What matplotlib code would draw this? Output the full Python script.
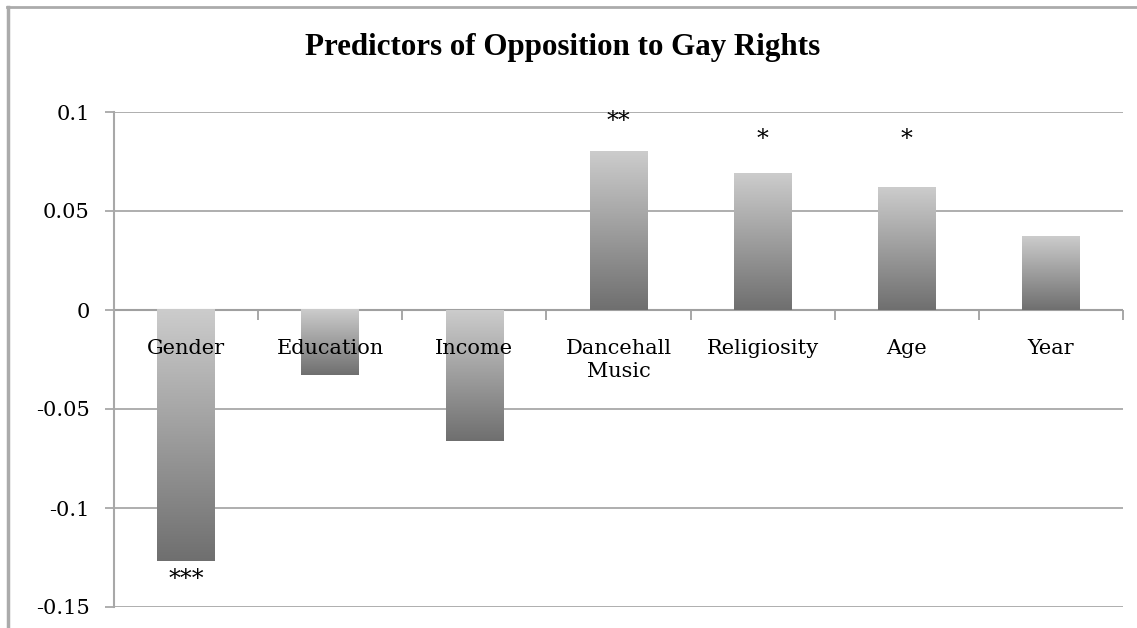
import numpy as np
import matplotlib
matplotlib.use('Agg')
import matplotlib.pyplot as plt
from matplotlib.colors import LinearSegmentedColormap
from matplotlib.lines import Line2D

categories = ['Gender', 'Education', 'Income', 'Dancehall\nMusic', 'Religiosity', 'Age', 'Year']
values = [-0.127, -0.033, -0.066, 0.080, 0.069, 0.062, 0.037]
stars = ['***', '', '', '**', '*', '*', '']
star_y = [-0.136, None, None, 0.095, 0.086, 0.086, None]
yticks = [-0.15, -0.1, -0.05, 0, 0.05, 0.1]
ytick_labels = ['-0.15', '-0.1', '-0.05', '0', '0.05', '0.1']
title = 'Predictors of Opposition to Gay Rights'

serif = ['DejaVu Serif']
title_font = ['Liberation Serif', 'DejaVu Serif']
grid_col = '#a8a8a8'

fig = plt.figure(figsize=(11.37, 6.28), dpi=100)
ax = fig.add_axes([114 / 1137, 21 / 628, (1123 - 114) / 1137, (607 - 112) / 628])

x = np.arange(len(categories))
bars = ax.bar(x, values, width=0.4, color='none', edgecolor='none', zorder=3)
cmap = LinearSegmentedColormap.from_list('g', ['#cccccc', '#6f6f6f'])
grad = np.linspace(0, 1, 256).reshape(-1, 1)
for b in bars:
    x0, w = b.get_x(), b.get_width()
    y0, h = b.get_y(), b.get_height()
    lo, hi = min(y0, y0 + h), max(y0, y0 + h)
    ax.imshow(grad, cmap=cmap, extent=[x0, x0 + w, lo, hi], origin='upper',
              aspect='auto', zorder=3, interpolation='bilinear')

ax.set_xlim(-0.5, len(categories) - 0.5)
ax.set_ylim(-0.15, 0.1)
ax.set_yticks(yticks)
ax.set_yticklabels(ytick_labels, fontsize=15, family=serif)
ax.tick_params(axis='y', length=6.5, width=1.3, color=grid_col, pad=11)
ax.set_xticks([])
ax.yaxis.grid(True, color=grid_col, lw=1.3)
ax.set_axisbelow(True)
for s in ['top', 'right', 'bottom']:
    ax.spines[s].set_visible(False)
ax.spines['left'].set_color(grid_col)
ax.spines['left'].set_linewidth(1.5)

ax.axhline(0, color='#a0a0a0', lw=1.5, zorder=2)
bounds = np.arange(len(categories)) + 0.5
ax.plot(bounds, np.zeros_like(bounds), linestyle='none', marker=3, markersize=7,
        mew=1.3, color='#a0a0a0', clip_on=False, zorder=2)

for xi, cat in zip(x, categories):
    ax.annotate(cat, xy=(xi, 0), xytext=(0, -21), textcoords='offset points',
                ha='center', va='top', fontsize=15, family=serif, linespacing=1.25)

for xi, s, sy in zip(x, stars, star_y):
    if s:
        ax.text(xi, sy, s, ha='center', va='center', fontsize=17, family=serif)

fig.text(563 / 1137, 1 - 47 / 628, title, ha='center', va='center', fontsize=22.3,
         fontweight='bold', family=title_font)

fig.add_artist(Line2D([7 / 1137, 1], [1 - 7 / 628] * 2, transform=fig.transFigure,
                      color='#ababab', lw=2))
fig.add_artist(Line2D([8 / 1137] * 2, [0, 1 - 7 / 628], transform=fig.transFigure,
                      color='#ababab', lw=2.5))

fig.savefig('out.png', dpi=100)
